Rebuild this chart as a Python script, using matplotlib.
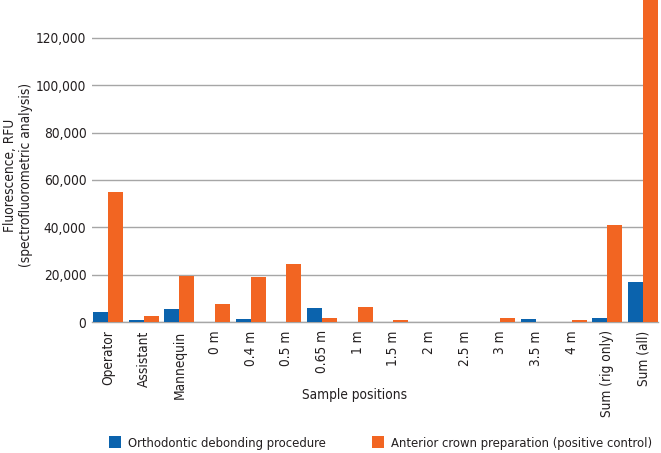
import matplotlib
matplotlib.use("Agg")
import matplotlib.pyplot as plt
import numpy as np

categories = ["Operator", "Assistant", "Mannequin", "0 m", "0.4 m", "0.5 m", "0.65 m",
              "1 m", "1.5 m", "2 m", "2.5 m", "3 m", "3.5 m", "4 m",
              "Sum (rig only)", "Sum (all)"]
orthodontic = [4400, 900, 5500, 0, 1300, 0, 5800, 0, 0, 0, 0, 0, 1300, 0, 1600, 16800]
crown = [54800, 2700, 19500, 7500, 18900, 24700, 1600, 6200, 900, 0, 0, 1600, 0, 900, 41000, 150000]
series_names = ["Orthodontic debonding procedure", "Anterior crown preparation (positive control)"]
yticks = [0, 20000, 40000, 60000, 80000, 100000, 120000]

plt.rcParams['font.family'] = ['DejaVu Sans']
plt.rcParams['font.stretch'] = 'condensed'
blue = "#0b63ad"
orange = "#f26522"
txt = "#231f20"
fs = 9.8
lfs = 9.4

fig = plt.figure(figsize=(6.61, 4.53), dpi=100)
ax = fig.add_axes([92/661, 1 - 322/453, (658-92)/661, 322/453])

x = np.arange(len(categories))
w = 0.42
b1 = ax.bar(x - w/2, orthodontic, width=w, color=blue, label=series_names[0], zorder=3)
b2 = ax.bar(x + w/2, crown, width=w, color=orange, label=series_names[1], zorder=3)

ax.set_xlim(-0.45, 15.42)
ax.set_ylim(0, 136000)
ax.set_yticks(yticks)
ax.set_yticklabels([f"{v:,}" for v in yticks], fontsize=fs, color=txt)
ax.set_xticks(x)
ax.set_xticklabels(categories, rotation=90, fontsize=fs, color=txt)
ax.tick_params(axis='both', length=0)
ax.tick_params(axis='y', pad=4)
ax.tick_params(axis='x', pad=6)
ax.grid(axis='y', color="#a6a6a6", linewidth=1.0, zorder=0)
for s in ["top", "right", "left"]:
    ax.spines[s].set_visible(False)
ax.spines["bottom"].set_color("#a6a6a6")
ax.spines["bottom"].set_linewidth(1.0)

fig.text(18/661, 1 - 175/453, "Fluorescence, RFU\n(spectrofluorometric analysis)", fontsize=fs,
         color=txt, rotation=90, ha="center", va="center", multialignment="center")
fig.text(355/661, 1 - 395/453, "Sample positions", fontsize=fs, color=txt, ha="center", va="center")

for h, name, x0 in [(b1, series_names[0], 109), (b2, series_names[1], 372)]:
    fig.legend([h], [name], loc="center left", bbox_to_anchor=(x0/661, 1 - 443/453),
               frameon=False, fontsize=lfs, handlelength=0.95, handleheight=0.95,
               handletextpad=0.5, borderpad=0, borderaxespad=0, labelcolor=txt)

fig.savefig("out.png", dpi=100)
